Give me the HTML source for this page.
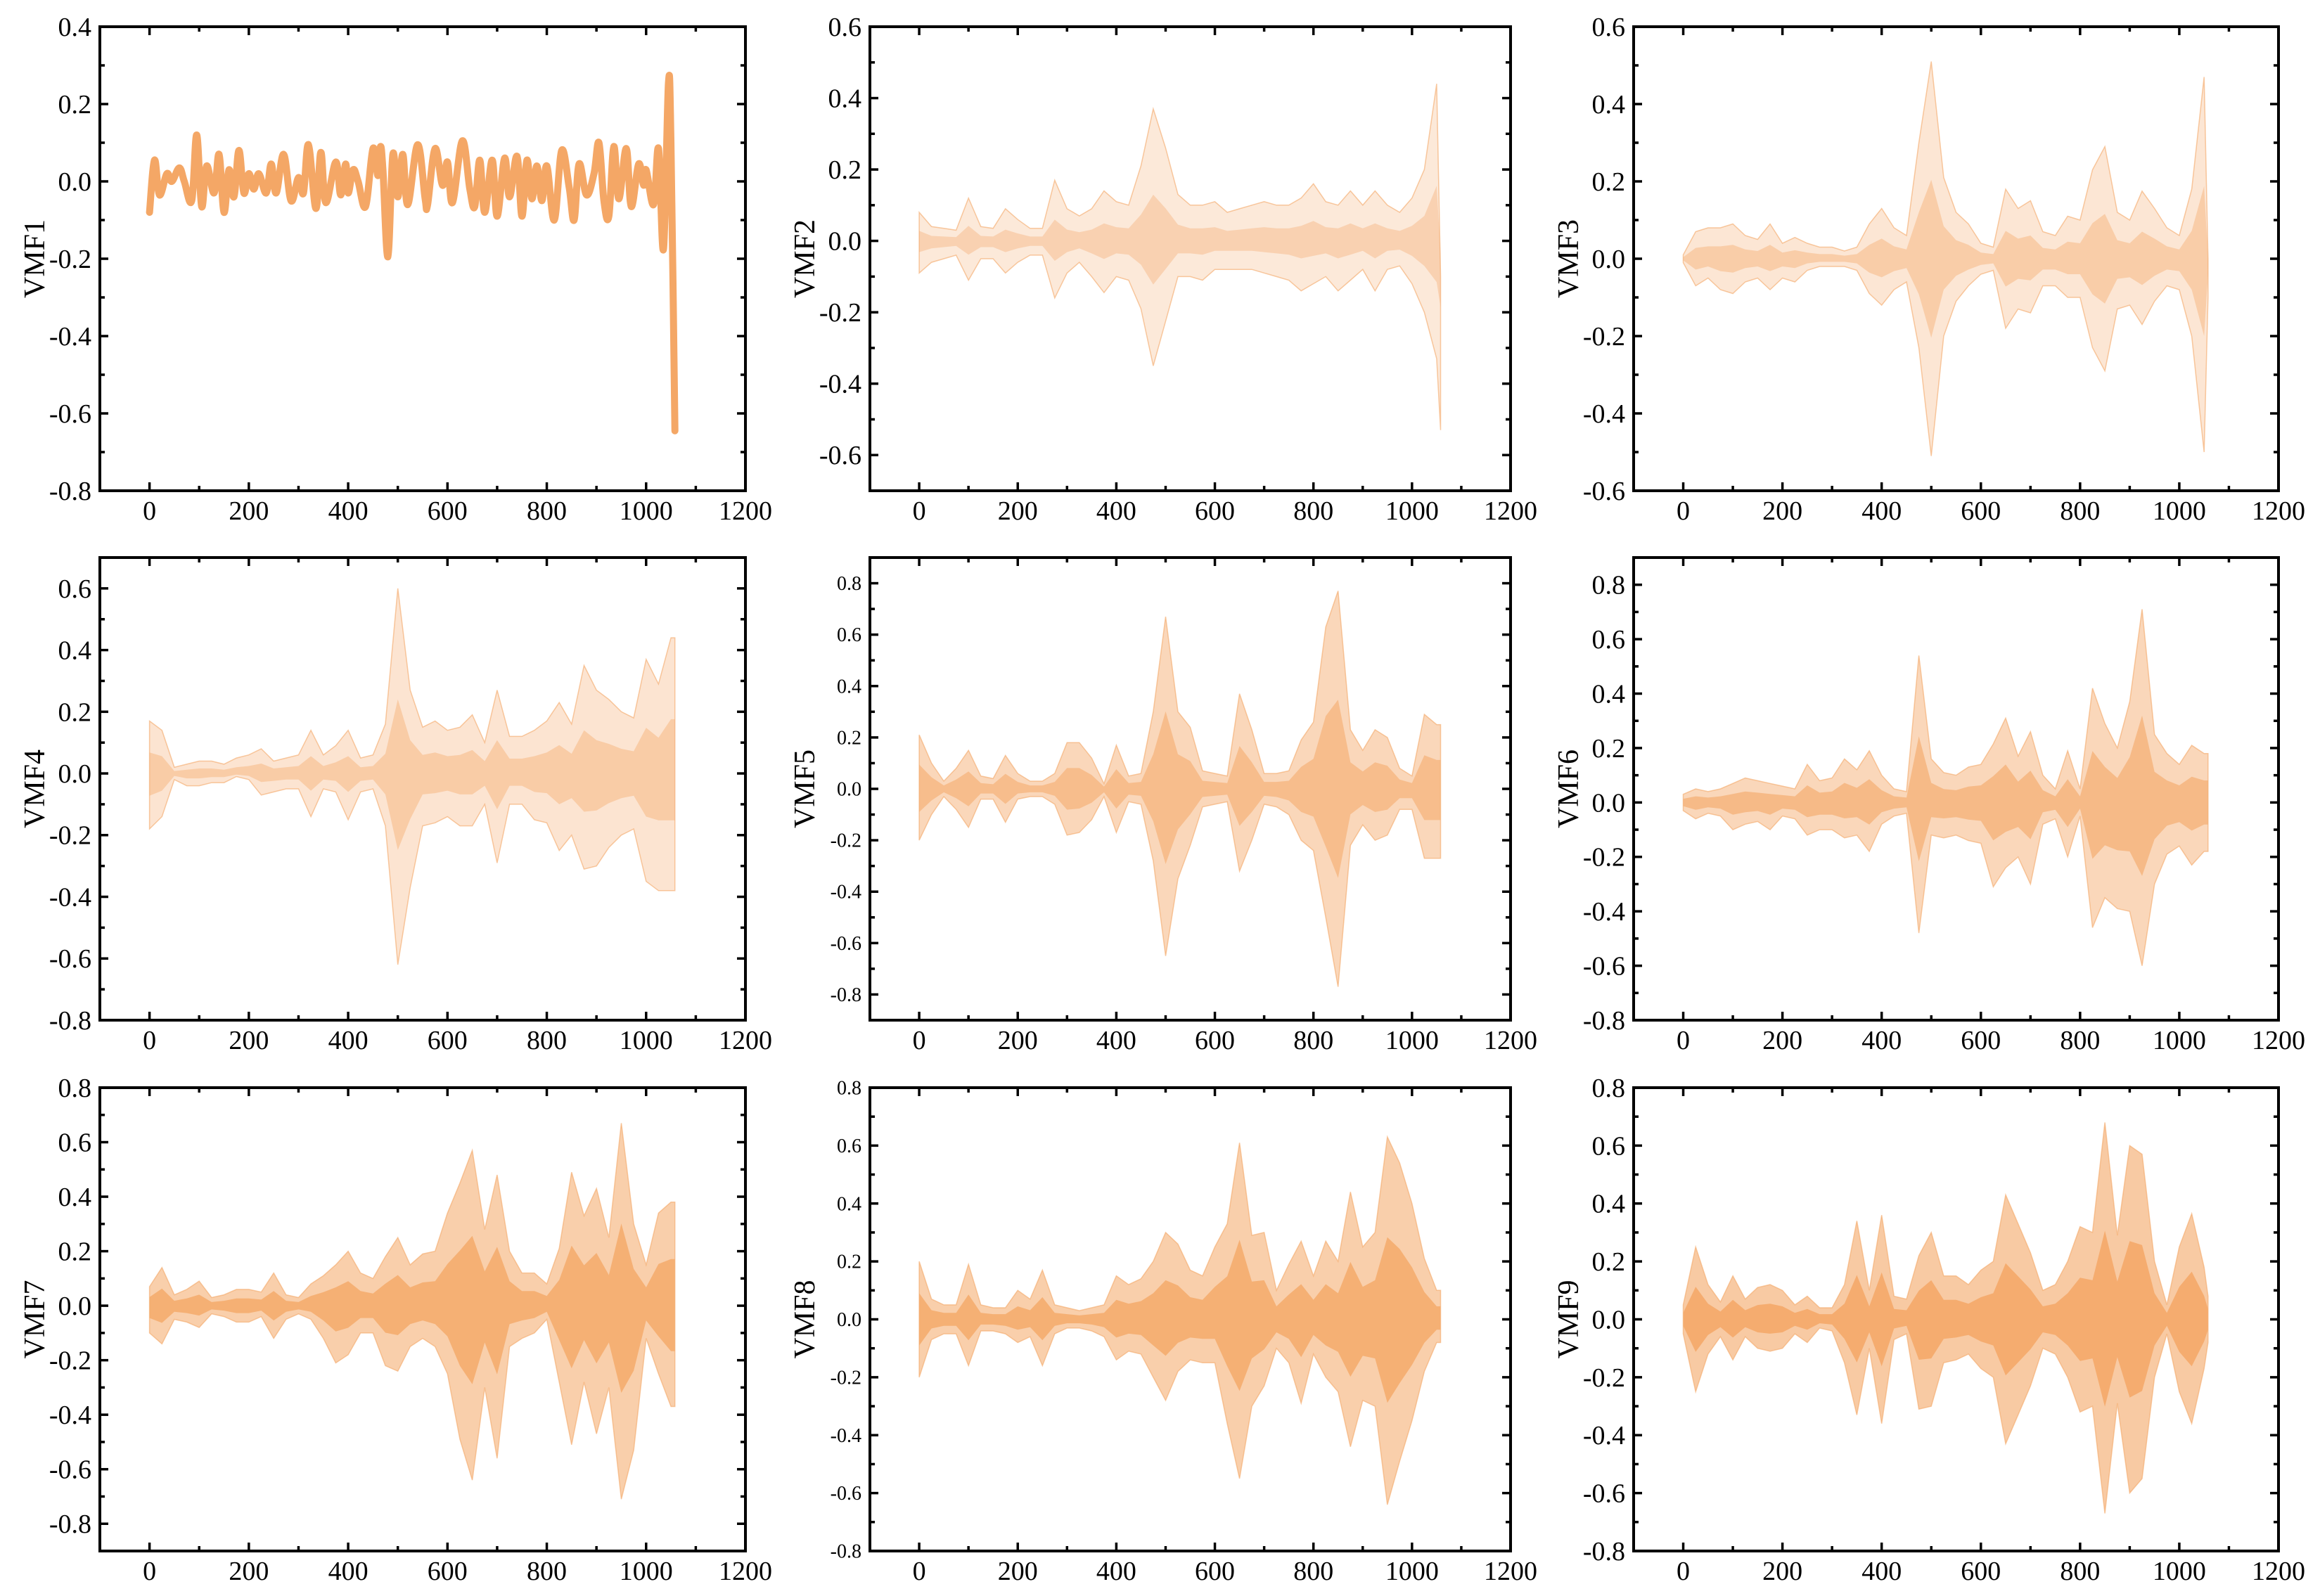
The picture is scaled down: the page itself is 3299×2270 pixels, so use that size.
<!DOCTYPE html>
<html><head><meta charset="utf-8"><title>VMF decomposition</title>
<style>html,body{margin:0;padding:0;background:#fff}svg{display:block}text{font-family:"Liberation Serif",serif;fill:#000}</style>
</head><body>
<svg id="fig" width="3299" height="2270" viewBox="0 0 3299 2270" xmlns="http://www.w3.org/2000/svg"></svg>
<script>
// shared sample positions for envelope series (samples)
const sampleX = [0,25,50,75,100,125,150,175,200,225,250,275,300,325,350,375,400,425,450,475,500,525,550,575,600,625,650,675,700,725,750,775,800,825,850,875,900,925,950,975,1000,1025,1050,1058];

// VMF1 line series
const vmf1X = [0,10,20,35,45,60,70,85,95,105,115,130,140,150,160,170,180,190,200,210,220,235,245,255,270,285,300,310,320,335,345,355,375,385,395,400,410,420,435,450,460,465,470,480,490,500,510,520,540,555,560,575,590,600,610,630,645,655,665,675,690,700,715,725,740,750,760,770,780,790,800,815,830,845,855,865,880,895,905,915,925,935,945,960,970,985,995,1000,1015,1025,1035,1045,1050,1058];
const vmf1Y = [-0.08,0.055,-0.035,0.02,0.0,0.035,0.0,-0.05,0.12,-0.065,0.04,-0.03,0.07,-0.08,0.03,-0.04,0.08,-0.03,0.02,-0.02,0.02,-0.03,0.045,-0.03,0.07,-0.05,0.01,-0.03,0.095,-0.07,0.075,-0.055,0.05,-0.035,0.045,-0.03,0.03,0.0,-0.065,0.085,0.015,0.09,0.03,-0.195,0.07,-0.04,0.07,-0.06,0.095,-0.045,-0.06,0.085,-0.01,0.05,-0.055,0.105,-0.02,-0.065,0.055,-0.08,0.055,-0.09,0.06,-0.04,0.065,-0.09,0.055,-0.045,0.04,-0.05,0.04,-0.1,0.08,-0.015,-0.1,0.045,-0.035,0.02,0.1,-0.05,-0.09,0.09,-0.045,0.085,-0.065,0.045,-0.01,0.03,-0.06,0.085,-0.175,0.255,0.1,-0.645];

// envelope series (upper / lower) for VMF2..VMF9
const vmf2Upper = [0.08,0.04,0.035,0.03,0.12,0.04,0.035,0.09,0.06,0.035,0.035,0.17,0.09,0.07,0.09,0.14,0.11,0.1,0.21,0.37,0.26,0.13,0.1,0.1,0.11,0.08,0.09,0.1,0.11,0.1,0.1,0.12,0.16,0.11,0.1,0.14,0.1,0.14,0.1,0.08,0.12,0.2,0.44,-0.1];
const vmf2Lower = [-0.09,-0.06,-0.05,-0.04,-0.11,-0.05,-0.05,-0.09,-0.06,-0.04,-0.04,-0.16,-0.09,-0.06,-0.1,-0.145,-0.1,-0.11,-0.19,-0.35,-0.225,-0.1,-0.1,-0.11,-0.08,-0.08,-0.08,-0.08,-0.09,-0.1,-0.11,-0.14,-0.12,-0.1,-0.14,-0.11,-0.08,-0.14,-0.08,-0.07,-0.12,-0.2,-0.33,-0.53];
const vmf3Upper = [0.01,0.07,0.08,0.08,0.09,0.06,0.05,0.09,0.04,0.055,0.04,0.03,0.03,0.02,0.03,0.09,0.13,0.08,0.06,0.3,0.51,0.21,0.12,0.09,0.04,0.03,0.18,0.13,0.15,0.07,0.06,0.11,0.1,0.23,0.29,0.12,0.1,0.175,0.13,0.08,0.06,0.18,0.47,0.0];
const vmf3Lower = [-0.01,-0.07,-0.05,-0.08,-0.09,-0.06,-0.05,-0.08,-0.05,-0.06,-0.03,-0.02,-0.02,-0.02,-0.03,-0.09,-0.12,-0.08,-0.06,-0.23,-0.51,-0.2,-0.11,-0.07,-0.04,-0.03,-0.18,-0.13,-0.14,-0.07,-0.07,-0.1,-0.1,-0.23,-0.29,-0.13,-0.12,-0.17,-0.11,-0.07,-0.08,-0.2,-0.5,-0.1];
const vmf4Upper = [0.17,0.14,0.02,0.03,0.04,0.04,0.03,0.05,0.06,0.08,0.04,0.05,0.06,0.14,0.06,0.09,0.14,0.05,0.06,0.16,0.6,0.27,0.15,0.17,0.14,0.15,0.19,0.1,0.27,0.12,0.12,0.14,0.17,0.23,0.16,0.35,0.27,0.24,0.2,0.18,0.37,0.29,0.44,0.44];
const vmf4Lower = [-0.18,-0.14,-0.02,-0.04,-0.04,-0.03,-0.03,-0.01,-0.02,-0.07,-0.06,-0.05,-0.05,-0.14,-0.05,-0.06,-0.15,-0.06,-0.05,-0.17,-0.62,-0.37,-0.17,-0.16,-0.14,-0.17,-0.17,-0.1,-0.29,-0.1,-0.1,-0.15,-0.16,-0.25,-0.2,-0.31,-0.3,-0.24,-0.2,-0.18,-0.35,-0.38,-0.38,-0.38];
const vmf5Upper = [0.21,0.1,0.03,0.08,0.15,0.05,0.04,0.13,0.06,0.03,0.03,0.06,0.18,0.18,0.12,0.02,0.17,0.05,0.06,0.3,0.67,0.3,0.24,0.07,0.06,0.05,0.37,0.23,0.06,0.06,0.07,0.19,0.26,0.63,0.77,0.23,0.15,0.23,0.2,0.08,0.05,0.29,0.25,0.25];
const vmf5Lower = [-0.2,-0.1,-0.03,-0.08,-0.15,-0.04,-0.04,-0.13,-0.04,-0.03,-0.03,-0.06,-0.18,-0.17,-0.12,-0.03,-0.17,-0.05,-0.06,-0.28,-0.65,-0.35,-0.22,-0.07,-0.06,-0.05,-0.32,-0.2,-0.06,-0.07,-0.1,-0.2,-0.24,-0.5,-0.77,-0.22,-0.14,-0.2,-0.18,-0.08,-0.08,-0.27,-0.27,-0.27];
const vmf6Upper = [0.03,0.05,0.04,0.05,0.07,0.09,0.08,0.07,0.06,0.05,0.14,0.08,0.09,0.16,0.12,0.19,0.1,0.05,0.04,0.54,0.16,0.11,0.1,0.13,0.14,0.215,0.31,0.17,0.26,0.1,0.05,0.19,0.05,0.42,0.29,0.2,0.37,0.71,0.25,0.18,0.14,0.21,0.18,0.18];
const vmf6Lower = [-0.03,-0.06,-0.04,-0.05,-0.1,-0.08,-0.07,-0.1,-0.05,-0.06,-0.12,-0.1,-0.1,-0.13,-0.12,-0.18,-0.08,-0.05,-0.04,-0.48,-0.12,-0.13,-0.12,-0.14,-0.15,-0.31,-0.24,-0.2,-0.3,-0.08,-0.06,-0.2,-0.05,-0.46,-0.35,-0.39,-0.4,-0.6,-0.3,-0.19,-0.16,-0.23,-0.18,-0.18];
const vmf7Upper = [0.07,0.14,0.04,0.06,0.09,0.03,0.04,0.06,0.06,0.05,0.12,0.04,0.03,0.08,0.11,0.15,0.2,0.12,0.1,0.18,0.25,0.15,0.19,0.2,0.34,0.45,0.57,0.28,0.48,0.2,0.12,0.12,0.08,0.21,0.49,0.33,0.43,0.25,0.67,0.3,0.15,0.34,0.38,0.38];
const vmf7Lower = [-0.1,-0.14,-0.05,-0.06,-0.08,-0.03,-0.04,-0.06,-0.06,-0.04,-0.12,-0.05,-0.03,-0.05,-0.12,-0.21,-0.18,-0.1,-0.1,-0.22,-0.24,-0.15,-0.12,-0.15,-0.25,-0.49,-0.64,-0.3,-0.56,-0.15,-0.12,-0.1,-0.05,-0.28,-0.51,-0.28,-0.47,-0.3,-0.71,-0.53,-0.12,-0.25,-0.37,-0.37];
const vmf8Upper = [0.2,0.07,0.05,0.05,0.19,0.05,0.04,0.04,0.1,0.07,0.17,0.05,0.04,0.03,0.04,0.05,0.15,0.12,0.14,0.2,0.3,0.26,0.17,0.15,0.25,0.33,0.61,0.29,0.3,0.1,0.19,0.27,0.15,0.27,0.2,0.44,0.25,0.3,0.63,0.54,0.4,0.21,0.1,0.1];
const vmf8Lower = [-0.2,-0.07,-0.05,-0.05,-0.16,-0.04,-0.04,-0.05,-0.08,-0.06,-0.16,-0.05,-0.03,-0.03,-0.04,-0.06,-0.14,-0.11,-0.12,-0.2,-0.28,-0.18,-0.14,-0.15,-0.15,-0.36,-0.55,-0.3,-0.23,-0.1,-0.15,-0.29,-0.12,-0.2,-0.25,-0.44,-0.28,-0.3,-0.64,-0.49,-0.35,-0.18,-0.08,-0.08];
const vmf9Upper = [0.05,0.25,0.12,0.06,0.15,0.07,0.11,0.12,0.1,0.05,0.08,0.04,0.04,0.12,0.34,0.1,0.36,0.08,0.07,0.22,0.3,0.15,0.15,0.12,0.17,0.2,0.43,0.33,0.23,0.1,0.12,0.2,0.32,0.3,0.68,0.29,0.6,0.57,0.2,0.05,0.25,0.365,0.18,0.08];
const vmf9Lower = [-0.05,-0.25,-0.12,-0.06,-0.14,-0.06,-0.1,-0.11,-0.1,-0.05,-0.08,-0.03,-0.04,-0.15,-0.33,-0.1,-0.36,-0.07,-0.05,-0.31,-0.3,-0.15,-0.14,-0.12,-0.17,-0.2,-0.43,-0.33,-0.23,-0.1,-0.12,-0.2,-0.32,-0.3,-0.67,-0.29,-0.6,-0.55,-0.2,-0.05,-0.25,-0.36,-0.17,-0.08];

// x tick labels
const xTickLabels = ["0","200","400","600","800","1000","1200"];

const NS = "http://www.w3.org/2000/svg";
const svg = document.getElementById("fig");
const COLOR = "#F4A766";
function mk(tag, attrs, parent){ const e=document.createElementNS(NS,tag); for(const k in attrs) e.setAttribute(k,attrs[k]); parent.appendChild(e); return e; }

const panels = [
 {title:"VMF1",box:[142,38,1060,698],y:[-0.8,0.4],fs:38,kind:"line"},
 {title:"VMF2",box:[1237,38,2148,698],y:[-0.7,0.6],fs:38,up:vmf2Upper,lo:vmf2Lower,op:0.25,cop:0.35,ck:0.35},
 {title:"VMF3",box:[2323,38,3240,698],y:[-0.6,0.6],fs:38,up:vmf3Upper,lo:vmf3Lower,op:0.28,cop:0.4,ck:0.4},
 {title:"VMF4",box:[142,793,1060,1451],y:[-0.8,0.7],fs:38,up:vmf4Upper,lo:vmf4Lower,op:0.3,cop:0.4,ck:0.4},
 {title:"VMF5",box:[1237,793,2148,1451],y:[-0.9,0.9],fs:28,up:vmf5Upper,lo:vmf5Lower,op:0.45,cop:0.55,ck:0.45},
 {title:"VMF6",box:[2323,793,3240,1451],y:[-0.8,0.9],fs:38,up:vmf6Upper,lo:vmf6Lower,op:0.45,cop:0.6,ck:0.45},
 {title:"VMF7",box:[142,1547,1060,2206],y:[-0.9,0.8],fs:38,up:vmf7Upper,lo:vmf7Lower,op:0.55,cop:0.8,ck:0.45},
 {title:"VMF8",box:[1237,1547,2148,2206],y:[-0.8,0.8],fs:28,up:vmf8Upper,lo:vmf8Lower,op:0.55,cop:0.8,ck:0.45},
 {title:"VMF9",box:[2323,1547,3240,2206],y:[-0.8,0.8],fs:38,up:vmf9Upper,lo:vmf9Lower,op:0.6,cop:0.85,ck:0.45}
];

function fmt(v){ const r=Math.round(v*10)/10; return (r===0?"0.0":r.toFixed(1)); }

panels.forEach((p,pi)=>{
  const [L,T,R,B]=p.box;
  const g=mk("g",{},svg);
  
  
  const xs=v=>L+(v+100)/1300*(R-L);
  const ys=v=>B-(v-p.y[0])/(p.y[1]-p.y[0])*(B-T);
  const cid="clip"+pi;
  const cp=mk("clipPath",{id:cid},g); mk("rect",{x:L,y:T,width:R-L,height:B-T},cp);
  const plot=mk("g",{"clip-path":"url(#"+cid+")"},g);
  
  
  if(p.kind==="line"){
    const pts=vmf1X.map((x,i)=>[xs(x),ys(vmf1Y[i])]);
    let d="M"+pts[0][0]+","+pts[0][1];
    for(let i=0;i<pts.length-1;i++){
      const p0=pts[Math.max(0,i-1)],p1=pts[i],p2=pts[i+1],p3=pts[Math.min(pts.length-1,i+2)];
      const t=0.18;
      d+=" C"+(p1[0]+(p2[0]-p0[0])*t)+","+(p1[1]+(p2[1]-p0[1])*t)+" "+(p2[0]-(p3[0]-p1[0])*t)+","+(p2[1]-(p3[1]-p1[1])*t)+" "+p2[0]+","+p2[1];
    }
    const path=mk("path",{d:d,fill:"none",stroke:COLOR,"stroke-width":10,"stroke-linejoin":"round","stroke-linecap":"round"},plot);
    
    
  } else {
    const bandPath=(k)=>{
      let d="";
      sampleX.forEach((x,i)=>{ d+=(i?"L":"M")+xs(x).toFixed(1)+","+ys(p.up[i]*k).toFixed(1); });
      for(let i=sampleX.length-1;i>=0;i--) d+="L"+xs(sampleX[i]).toFixed(1)+","+ys(p.lo[i]*k).toFixed(1);
      return d+"Z";
    };
    const outer=mk("path",{d:bandPath(1),fill:COLOR,"fill-opacity":p.op,stroke:COLOR,"stroke-opacity":0.6,"stroke-width":1.5},plot);
    
    
    const core=mk("path",{d:bandPath(p.ck),fill:COLOR,"fill-opacity":p.cop},plot);
    
    
  }
  const fr=mk("rect",{x:L,y:T,width:R-L,height:B-T,fill:"none",stroke:"#000","stroke-width":4},g);
  
  
  for(let v=-100; v<=1200; v+=100){
    const X=xs(v), major=(v%200===0), len=major?12:7;
    mk("line",{x1:X,y1:B,x2:X,y2:B-len,stroke:"#000","stroke-width":3.5},g);
    mk("line",{x1:X,y1:T,x2:X,y2:T+len,stroke:"#000","stroke-width":3.5},g);
  }
  xTickLabels.forEach(s=>{
    const t=mk("text",{x:xs(+s),y:B+41,"font-size":38,"text-anchor":"middle"},g);
    t.textContent=s;
    
    
  });
  const lo=Math.round(p.y[0]*10), hi=Math.round(p.y[1]*10);
  for(let k=lo;k<=hi;k++){
    const v=k/10, Y=ys(v), major=(Math.abs(k)%2===0), len=major?12:7;
    mk("line",{x1:L,y1:Y,x2:L+len,y2:Y,stroke:"#000","stroke-width":3.5},g);
    mk("line",{x1:R,y1:Y,x2:R-len,y2:Y,stroke:"#000","stroke-width":3.5},g);
    if(major){
      const t=mk("text",{x:L-12,y:Y+p.fs*0.34,"font-size":p.fs,"text-anchor":"end"},g);
      t.textContent=fmt(v);
      
      
    }
  }
  const cy=(T+B)/2, cx=L-93;
  const tt=mk("text",{x:cx,y:cy,"font-size":42,"text-anchor":"middle",transform:"rotate(-90 "+cx+" "+cy+")",dy:"14"},g);
  tt.textContent=p.title;
  
  
});
</script>
</body></html>
